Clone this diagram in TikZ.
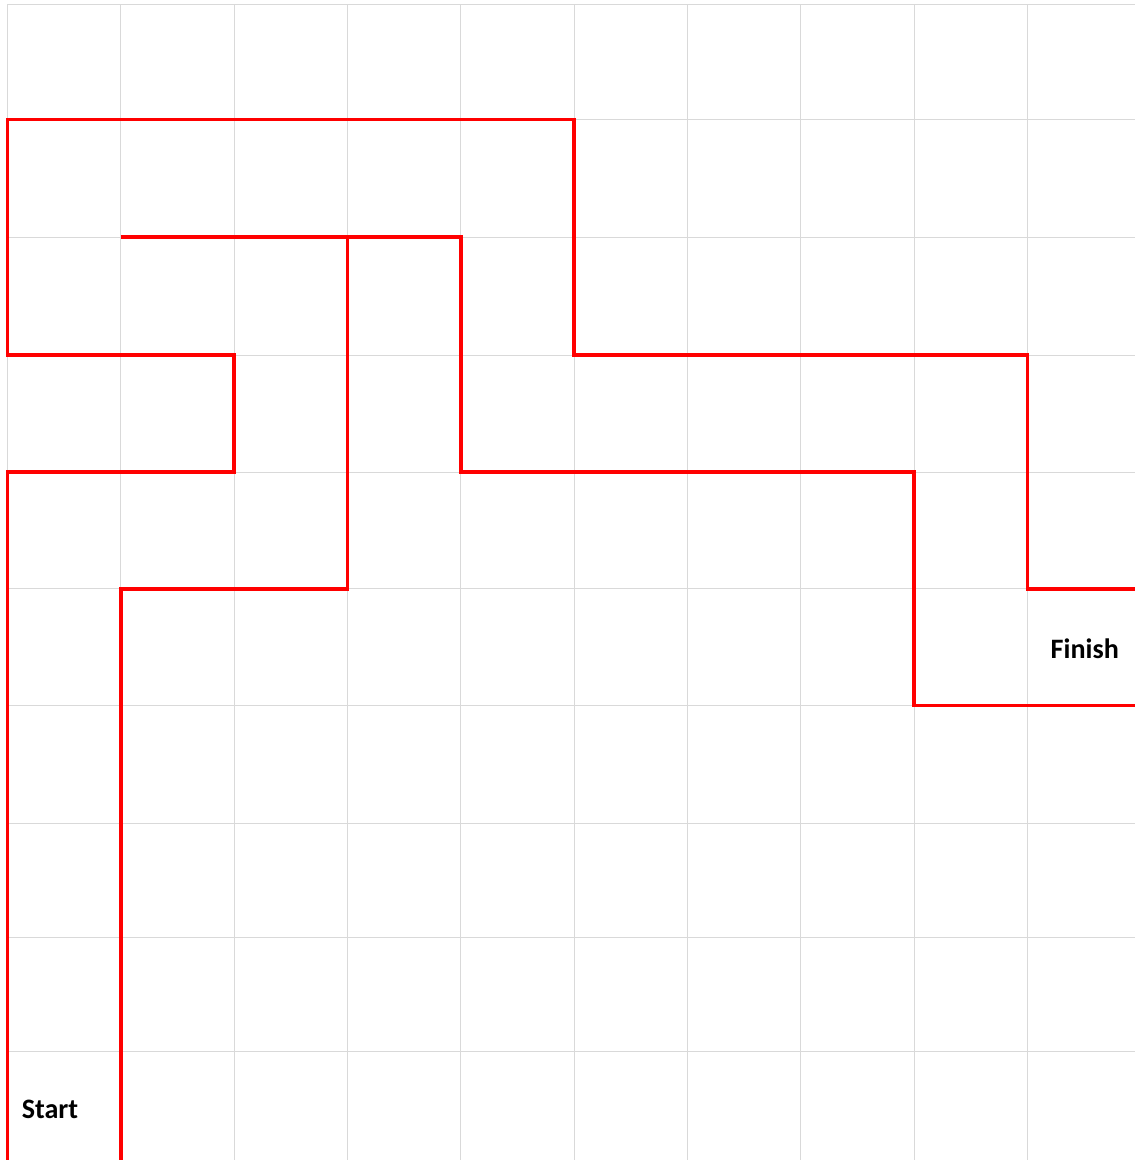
\documentclass[tikz,border=0pt]{standalone}
\usepackage{fontspec}
\setmainfont{Carlito}
\usepackage{tikz}
\definecolor{gridline}{HTML}{D9D9D9}
\definecolor{route}{HTML}{FF0000}

\begin{document}
\begin{tikzpicture}[x=2.267cm, y=-0.02cm,
  cell/.style={draw=gridline, line width=0.55pt},
  wall/.style={draw=route, line width=2.2pt},
  tag/.style={font=\fontsize{16}{19}\selectfont\bfseries, text=black}]
  \useasboundingbox (-0.066,0) rectangle (9.947,1160);

  % Grid (rows measured in px from the top)
  \foreach \i in {0,...,9} {
    \draw[cell] (\i,1160) -- (\i,4);
  }
  \foreach \py in {4,119.5,237,355,472,588.5,705,823,937,1051} {
    \draw[cell] (0,\py) -- (9.947,\py);
  }

  % Outer wall
  \draw[wall] (0,1160) -- (0,472) -- (2,472) -- (2,355) -- (0,355) -- (0,119.5)
    -- (5,119.5) -- (5,355) -- (9,355) -- (9,589) -- (9.947,589);

  % Inner wall
  \draw[wall] (1,1160) -- (1,589) -- (3,589) -- (3,237);
  \draw[wall] (1,237) -- (4,237) -- (4,472) -- (8,472) -- (8,705.5) -- (9.947,705.5);

  % Labels
  \node[tag] (start) at (0.375,1109) {Start};
  \node[tag] (finish) at (9.506,649) {Finish};
\end{tikzpicture}
\end{document}
